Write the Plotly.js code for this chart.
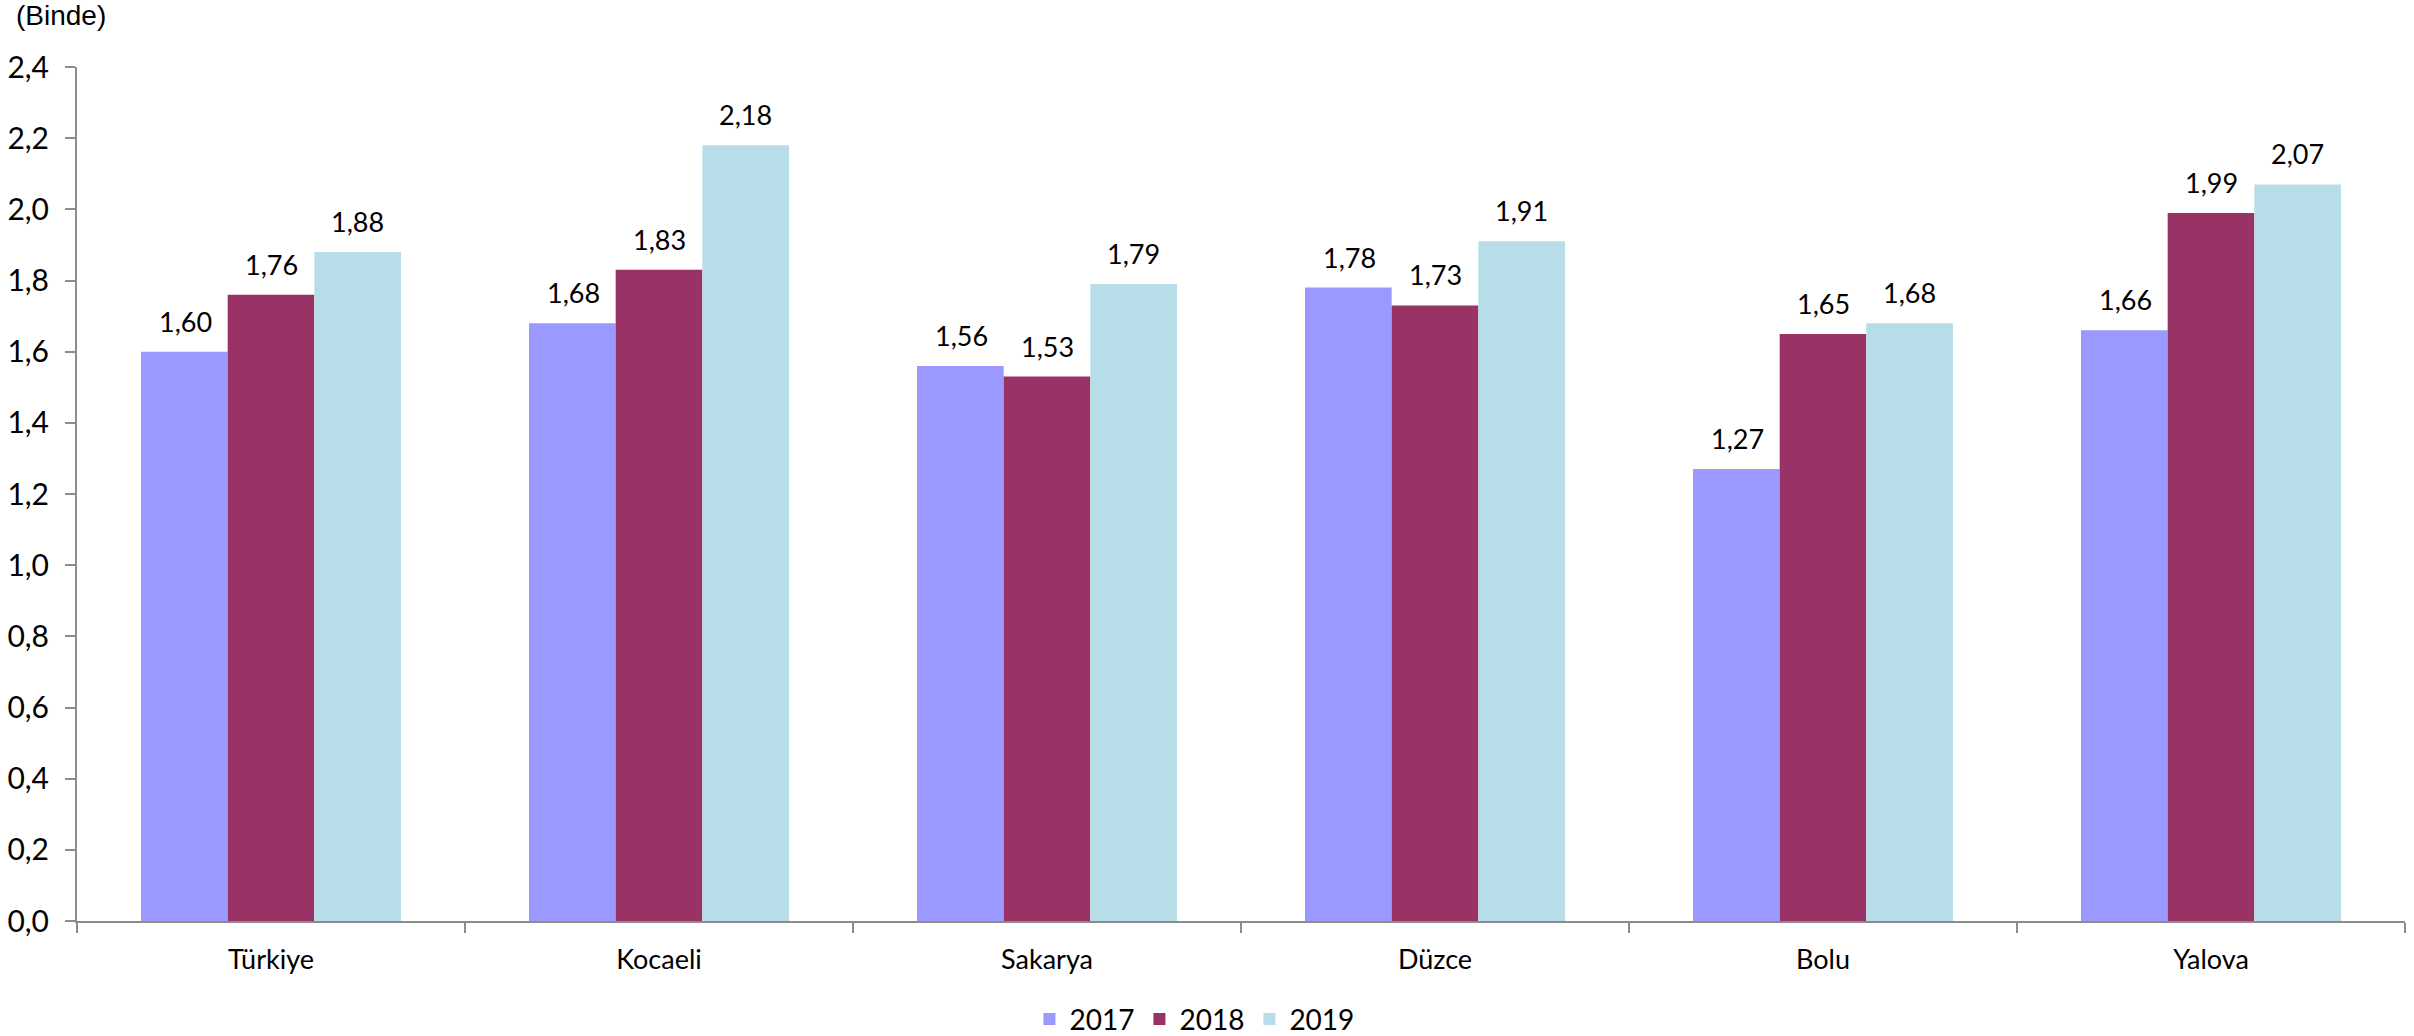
<!DOCTYPE html>
<html><head><meta charset="utf-8">
<script src="https://cdn.plot.ly/plotly-3.0.1.min.js"></script>
<style>html,body{margin:0;padding:0;background:#fff}#chart{width:2414px;height:1036px}</style>
</head><body><div id="chart"></div>
<script>
const categories = ['Türkiye','Kocaeli','Sakarya','Düzce','Bolu','Yalova'];
const seriesNames = ['2017','2018','2019'];
const v2017 = [1.60,1.68,1.56,1.78,1.27,1.66];
const v2018 = [1.76,1.83,1.53,1.73,1.65,1.99];
const v2019 = [1.88,2.18,1.79,1.91,1.68,2.07];
const yTicks = [0,0.2,0.4,0.6,0.8,1.0,1.2,1.4,1.6,1.8,2.0,2.2,2.4];

const colors = ['#9999FF','#993366','#B7DEE8'];
const series = [v2017,v2018,v2019];
const font = 'Lato, Carlito, "Open Sans", sans-serif';

const traces = series.map((vals,i)=>({
  type:'bar', name:seriesNames[i], x:categories, y:vals,
  marker:{color:colors[i], line:{width:0}},
  hoverinfo:'skip'
}));

const barPx = 86;
const annotations = [];
series.forEach((vals,i)=>{
  vals.forEach((v,j)=>{
    annotations.push({
      x:categories[j], y:v, xref:'x', yref:'y',
      text:v.toFixed(2).replace('.',','), showarrow:false,
      xshift:(i-1)*barPx, yanchor:'bottom', yshift:12,
      font:{family:font, size:27, color:'#000'}
    });
  });
});
annotations.push({
  text:'(Binde)', xref:'paper', yref:'paper', x:-0.027, y:1.0, xanchor:'left', yanchor:'bottom', yshift:34,
  showarrow:false, font:{family:'"Liberation Sans", Arial, sans-serif', size:28, color:'#000'}
});

const layout = {
  width:2414, height:1036,
  margin:{l:77, r:9, t:67, b:115, autoexpand:false},
  paper_bgcolor:'#fff', plot_bgcolor:'#fff',
  separators:', ',
  barmode:'group', bargap:0.33, bargroupgap:0,
  showlegend:true,
  legend:{orientation:'h', x:0.48, xanchor:'center', y:-0.115, yanchor:'middle',
    font:{family:font, size:28, color:'#000'}, itemwidth:30, tracegroupgap:0},
  xaxis:{type:'category', showline:true, linecolor:'#8c8c8c', linewidth:2,
    ticks:'outside', tickson:'boundaries', ticklen:10, tickcolor:'#8c8c8c', tickwidth:2,
    showgrid:false, zeroline:false, ticklabelstandoff:14,
    tickfont:{family:font, size:27, color:'#000'}},
  yaxis:{range:[0,2.4], tickvals:yTicks, tickformat:'.1f', showline:true, linecolor:'#8c8c8c', linewidth:2,
    ticks:'outside', ticklen:10, tickcolor:'#8c8c8c', tickwidth:2, showgrid:false, zeroline:false,
    ticklabelstandoff:10,
    tickfont:{family:font, size:30, color:'#000'}},
  annotations:annotations
};
Plotly.newPlot('chart', traces, layout, {displayModeBar:false, staticPlot:true});
</script></body></html>
